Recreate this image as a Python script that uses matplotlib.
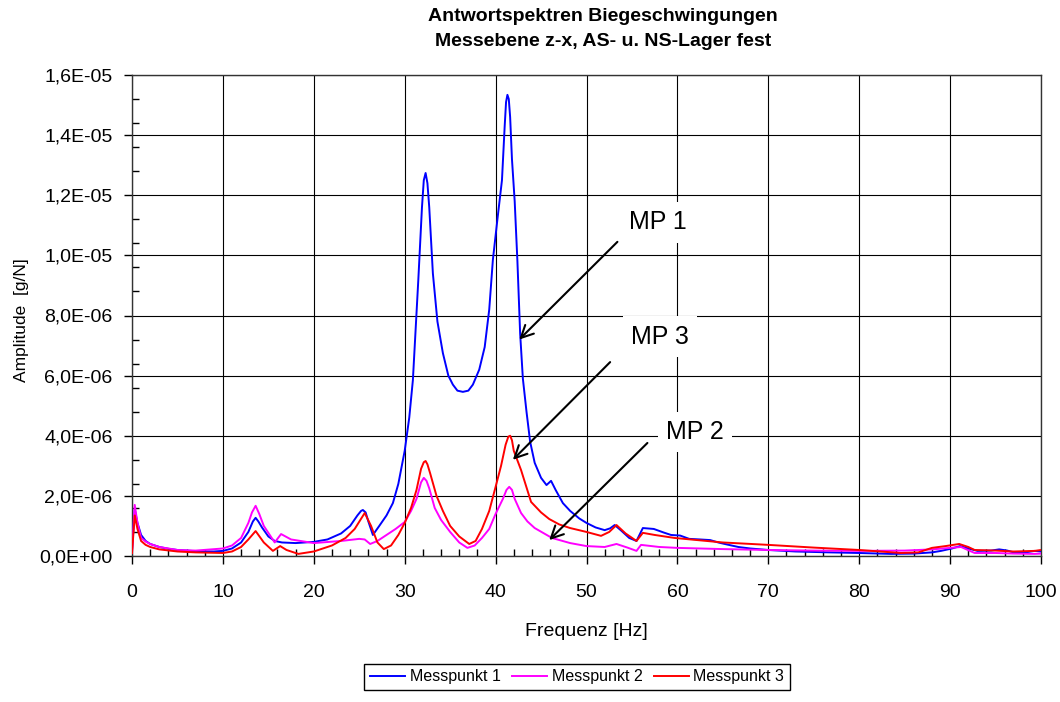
import matplotlib
matplotlib.use("Agg")
import matplotlib.pyplot as plt
from matplotlib.ticker import MultipleLocator, FuncFormatter
import numpy as np

plt.rcParams['font.family'] = ['Liberation Sans', 'DejaVu Sans']

# Messpunkt 1 (blau) - Frequenz [Hz], Amplitude [1e-6 g/N]
f_mp1 = [0, 0.3, 0.6, 1, 1.5, 2, 3, 4, 5, 7,
         9, 10, 11, 12, 12.8, 13.3, 13.6, 13.9, 14.3, 15, 15.7, 16.5,
         18, 20, 21.5, 23, 24, 24.8, 25.2, 25.4, 25.7, 26.0, 26.5, 27.2,
         28, 28.7, 29.3, 30, 30.5, 30.9, 31.5, 31.9, 32.1, 32.3, 32.5, 32.7,
         33.1, 33.6, 34.2, 34.8, 35.3, 35.8, 36.4, 37, 37.5, 38.2,
         38.8, 39.3, 39.7, 40.2, 40.7, 41.0, 41.15, 41.3, 41.45, 41.6, 41.8, 42.1,
         42.4, 42.7, 43.0, 43.4, 43.8, 44.3, 45.0, 45.6, 46.1, 46.6,
         47.4, 48.2, 49.2, 50, 51, 52, 52.6, 53.1, 53.8, 54.7,
         55.5, 56.2, 57.4, 58.5, 59.3, 60.3, 61.3, 62.5, 63.6, 64.5,
         65.5, 66.7, 68, 70, 73, 76.8, 80, 83.5, 86, 88,
         89, 90.2, 91.1, 92, 93, 94.5, 95.4, 96.3, 97.2, 98.3,
         99.3, 100]
a_mp1 = [0.2, 1.55, 1.1, 0.7, 0.5, 0.4, 0.3, 0.24, 0.2, 0.16,
         0.15, 0.17, 0.25, 0.45, 0.8, 1.15, 1.27, 1.15, 0.95, 0.65, 0.5, 0.45,
         0.43, 0.47, 0.55, 0.75, 1.0, 1.35, 1.5, 1.53, 1.45, 1.15, 0.7, 1.0,
         1.35, 1.76, 2.4, 3.5, 4.6, 5.85, 9.2, 11.6, 12.5, 12.74, 12.4, 11.6,
         9.4, 7.8, 6.75, 6.0, 5.7, 5.5, 5.46, 5.5, 5.7, 6.2,
         6.95, 8.2, 9.85, 11.2, 12.5, 14.3, 15.1, 15.34, 15.2, 14.6, 13.2, 11.8,
         9.8, 7.4, 5.9, 4.8, 3.8, 3.1, 2.6, 2.36, 2.5, 2.2,
         1.76, 1.5, 1.25, 1.1, 0.95, 0.86, 0.92, 1.03, 0.85, 0.6,
         0.5, 0.93, 0.9, 0.78, 0.7, 0.68, 0.57, 0.55, 0.53, 0.45,
         0.38, 0.3, 0.25, 0.2, 0.15, 0.12, 0.1, 0.07, 0.08, 0.12,
         0.17, 0.25, 0.33, 0.25, 0.17, 0.18, 0.22, 0.18, 0.1, 0.12,
         0.17, 0.15]

# Messpunkt 2 (magenta)
f_mp2 = [0, 0.3, 0.6, 1, 1.5, 2, 3, 5, 7, 10,
         11, 12, 12.8, 13.2, 13.6, 14.0, 14.5, 15.7, 16.4, 17.5, 20, 23,
         25, 25.6, 26.2, 27, 28, 29, 30, 30.7, 31.3, 31.8, 32.1, 32.4,
         32.7, 33.3, 34, 35, 36, 36.9, 37.7, 38.5, 39.3, 40,
         40.8, 41.2, 41.5, 41.8, 42.1, 42.8, 43.5, 44.3, 46.2, 48.2, 50, 52,
         53.3, 54.5, 55.5, 56, 58, 60, 65, 70, 75, 80,
         85, 88, 90, 91.2, 92.7, 95, 97, 99.3, 100]
a_mp2 = [0.1, 1.7, 1.1, 0.6, 0.48, 0.4, 0.3, 0.2, 0.18, 0.25,
         0.35, 0.6, 1.1, 1.45, 1.67, 1.4, 1.0, 0.45, 0.73, 0.55, 0.43, 0.5,
         0.57, 0.55, 0.4, 0.5, 0.7, 0.9, 1.13, 1.5, 1.9, 2.45, 2.6, 2.5,
         2.25, 1.6, 1.2, 0.8, 0.45, 0.27, 0.35, 0.6, 0.9, 1.4,
         1.9, 2.2, 2.3, 2.2, 1.9, 1.43, 1.15, 0.93, 0.6, 0.43, 0.33, 0.3,
         0.4, 0.28, 0.17, 0.37, 0.3, 0.27, 0.23, 0.2, 0.18, 0.17,
         0.18, 0.22, 0.27, 0.3, 0.1, 0.1, 0.08, 0.07, 0.08]

# Messpunkt 3 (rot)
f_mp3 = [0, 0.3, 0.6, 1, 1.5, 2, 3, 5, 7, 10,
         11, 12, 12.8, 13.6, 14.5, 15.5, 16.3, 17, 18.3, 20,
         22, 23.5, 24.5, 25.6, 26.3, 27, 27.7, 28.5, 29.3, 30,
         30.7, 31.3, 31.8, 32.1, 32.3, 32.5, 32.8, 33.5, 34.2, 35, 36, 37.1,
         37.8, 38.5, 39.3, 40, 40.6, 41.1, 41.4, 41.6, 41.8, 42.0, 42.8, 43.9,
         45, 45.9, 47, 48.2, 50, 51.6, 52.5, 53.3, 54.3, 55.5,
         56.2, 57.5, 59.7, 65, 70, 75, 80, 84.6, 86.5, 88,
         89.5, 91, 92, 92.7, 95, 97, 99.3, 100]
a_mp3 = [0.1, 1.35, 0.9, 0.5, 0.37, 0.3, 0.22, 0.15, 0.12, 0.1,
         0.15, 0.3, 0.55, 0.83, 0.45, 0.17, 0.33, 0.2, 0.07, 0.15,
         0.35, 0.6, 0.9, 1.43, 1.0, 0.45, 0.23, 0.35, 0.7, 1.1,
         1.6, 2.2, 2.9, 3.12, 3.16, 3.05, 2.75, 2.0, 1.5, 1.0, 0.65, 0.4,
         0.5, 0.9, 1.5, 2.3, 3.0, 3.7, 3.97, 4.0, 3.85, 3.5, 2.86, 1.8,
         1.45, 1.23, 1.05, 0.93, 0.8, 0.67, 0.8, 1.03, 0.75, 0.5,
         0.77, 0.7, 0.6, 0.45, 0.37, 0.28, 0.2, 0.1, 0.12, 0.27,
         0.33, 0.4, 0.3, 0.2, 0.18, 0.15, 0.17, 0.2]

series_names = ["Messpunkt 1", "Messpunkt 2", "Messpunkt 3"]
series_colors = ["#0000FF", "#FF00FF", "#FF0000"]

# Beschriftungen: Text, Textposition, Pfeilanfang, Pfeilspitze in (Hz, 1e-6 g/N)
labels = ["MP 1", "MP 3", "MP 2"]
label_pos = [(57.8, 11.1), (58.1, 7.3), (61.9, 4.13)]
arrow_tail = [(53.4, 10.45), (52.6, 6.45), (56.7, 3.76)]
arrow_tip = [(42.6, 7.2), (41.9, 3.2), (45.9, 0.53)]

scale = 1e-6

fig = plt.figure(figsize=(10.6, 7.02), dpi=100)
ax = fig.add_axes([132 / 1060, 1 - 556 / 702, 909 / 1060, 481 / 702])

for f, a, name, col in zip([f_mp1, f_mp2, f_mp3], [a_mp1, a_mp2, a_mp3],
                           series_names, series_colors):
    ax.plot(f, np.array(a) * scale, color=col, lw=1.4, label=name, zorder=3)

ax.set_xlim(0, 100)
ax.set_ylim(0, 1.6e-5)
ax.xaxis.set_major_locator(MultipleLocator(10))
ax.xaxis.set_minor_locator(MultipleLocator(2))
ax.yaxis.set_major_locator(MultipleLocator(2e-6))
ax.yaxis.set_minor_locator(MultipleLocator(0.8e-6))
ax.yaxis.set_major_formatter(FuncFormatter(lambda v, p: f"{v:.1E}".replace('.', ',')))

ax.grid(which='major', color='black', lw=0.8, zorder=1)
ax.tick_params(which='major', direction='out', length=6, width=1, labelsize=14)
ax.tick_params(axis='x', which='major', pad=14)
ax.tick_params(axis='y', which='major', pad=8)
ax.tick_params(which='minor', direction='in', length=5, width=1)
for s in ax.spines.values():
    s.set_color('#333333')
    s.set_linewidth(1.0)

ax.set_xlabel("Frequenz [Hz]", fontsize=14, labelpad=16)

fig.text(22 / 1060, 1 - 320 / 702, "Amplitude  [g/N]", rotation=90,
         ha='center', va='center', fontsize=12.5, fontstretch='condensed',
         family=['Liberation Sans Narrow', 'Liberation Sans', 'DejaVu Sans'])

fig.text(603 / 1060, 1 - 29 / 702,
         "Antwortspektren Biegeschwingungen\nMessebene z-x, AS- u. NS-Lager fest",
         ha='center', va='center', fontsize=14, fontweight='bold',
         multialignment='center', linespacing=1.6)

for txt, pos, tail, tip in zip(labels, label_pos, arrow_tail, arrow_tip):
    ax.annotate("", xy=(tip[0], tip[1] * scale), xytext=(tail[0], tail[1] * scale),
                arrowprops=dict(arrowstyle='->', lw=1.5, color='black',
                                mutation_scale=22, shrinkA=0, shrinkB=0),
                zorder=4)
    ax.text(pos[0], pos[1] * scale, txt, fontsize=18, ha='center', va='center',
            zorder=5, bbox=dict(facecolor='white', edgecolor='none', pad=6))

leg = fig.legend(loc='center', bbox_to_anchor=(577 / 1060, 1 - 677 / 702),
                 ncol=3, fontsize=11.5, frameon=True, fancybox=False,
                 edgecolor='black', framealpha=1, handlelength=2.2,
                 handletextpad=0.3, columnspacing=0.7, borderpad=0.35)
leg.get_frame().set_linewidth(1.0)

fig.savefig("out.png", dpi=100, facecolor='white')
